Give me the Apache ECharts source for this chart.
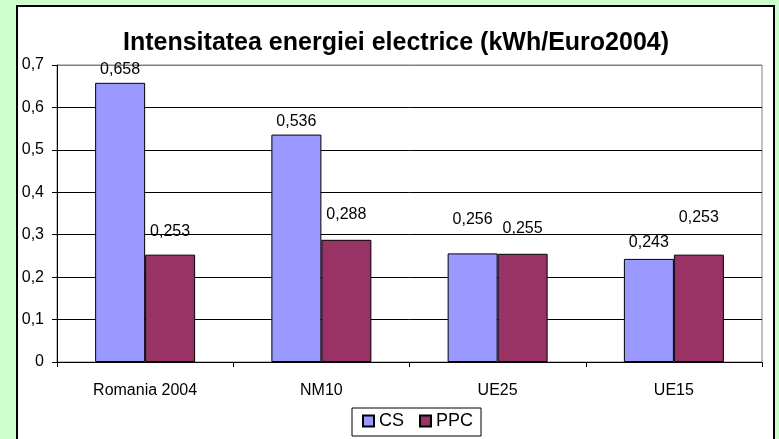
<!DOCTYPE html>
<html>
<head>
<meta charset="UTF-8">
<title>Intensitatea energiei electrice</title>
<script src="https://cdn.jsdelivr.net/npm/echarts@6/dist/echarts.min.js"></script>
<style>
  html, body { margin: 0; padding: 0; background: #ccffcc; }
  #chart { width: 779px; height: 439px; }
</style>
</head>
<body>
<div id="chart"></div>
<script>
const categories = ['Romania 2004', 'NM10', 'UE25', 'UE15'];
const csValues = [0.658, 0.536, 0.256, 0.243];
const ppcValues = [0.253, 0.288, 0.255, 0.253];
const yTicks = [0, 0.1, 0.2, 0.3, 0.4, 0.5, 0.6, 0.7];

// Excel had the labels dragged by hand; extra lift in px per point
const csLift = [0, 0, -21, -3];
const ppcLift = [-10, -12, -12, -24];

const font = 'Arial, "Liberation Sans", sans-serif';
const comma = v => String(v).replace('.', ',');

function items(values, lift) {
  return values.map((v, i) => ({
    value: v,
    label: { offset: [0, lift[i]] }
  }));
}

const chart = echarts.init(document.getElementById('chart'), null, { renderer: 'canvas' });

chart.setOption({
  backgroundColor: '#ccffcc',
  animation: false,
  graphic: [{
    type: 'rect',
    z: -10,
    shape: { x: 17, y: 6, width: 757, height: 450 },
    style: { fill: '#ffffff', stroke: '#000000', lineWidth: 2 }
  }],
  title: {
    text: 'Intensitatea energiei electrice (kWh/Euro2004)',
    left: 118,
    top: 26,
    padding: 5,
    textStyle: { fontFamily: font, fontSize: 25, fontWeight: 'bold', color: '#000' }
  },
  grid: {
    left: 57, right: 17, top: 65, bottom: 77,
    show: true, borderColor: '#808080', borderWidth: 1, backgroundColor: 'transparent'
  },
  legend: {
    data: ['CS', 'PPC'],
    left: 352,
    top: 408,
    padding: [4, 8, 6, 10],
    itemWidth: 11,
    itemHeight: 11,
    itemGap: 15,
    icon: 'rect',
    borderColor: '#000',
    borderWidth: 1,
    backgroundColor: '#fff',
    textStyle: { fontFamily: font, fontSize: 18, color: '#000' }
  },
  xAxis: {
    type: 'category',
    data: categories,
    axisLine: { lineStyle: { color: '#000' } },
    axisTick: { show: true, length: 5, lineStyle: { color: '#000' } },
    axisLabel: { margin: 21, fontFamily: font, fontSize: 16, color: '#000' }
  },
  yAxis: {
    type: 'value',
    min: 0,
    max: 0.7,
    interval: 0.1,
    axisLine: { show: true, lineStyle: { color: '#000' } },
    axisTick: { show: true, length: 5, lineStyle: { color: '#000' } },
    splitLine: {
      lineStyle: {
        color: yTicks.map((t, i) => i === yTicks.length - 1 ? '#808080' : '#000'),
        width: 1
      }
    },
    axisLabel: {
      margin: 13,
      fontFamily: font,
      fontSize: 16,
      color: '#000',
      formatter: v => comma(+v.toFixed(1))
    }
  },
  series: [
    {
      name: 'CS',
      type: 'bar',
      barWidth: 50,
      barGap: '0%',
      data: items(csValues, csLift),
      itemStyle: { color: '#9999ff', borderColor: '#000', borderWidth: 1 },
      label: {
        show: true, position: 'top', distance: 5,
        fontFamily: font, fontSize: 16, color: '#000',
        formatter: p => comma(p.value)
      }
    },
    {
      name: 'PPC',
      type: 'bar',
      barWidth: 50,
      data: items(ppcValues, ppcLift),
      itemStyle: { color: '#993366', borderColor: '#000', borderWidth: 1 },
      label: {
        show: true, position: 'top', distance: 5,
        fontFamily: font, fontSize: 16, color: '#000',
        formatter: p => comma(p.value)
      }
    }
  ]
});
</script>
</body>
</html>
